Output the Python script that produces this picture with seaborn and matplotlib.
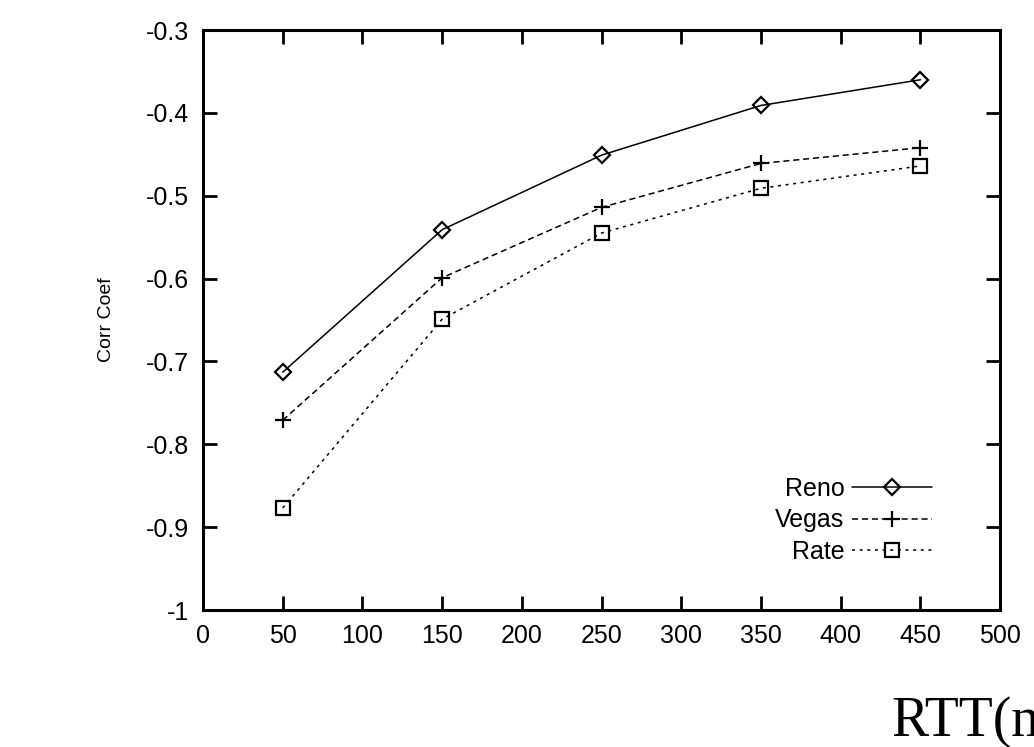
import numpy as np
import pandas as pd
import seaborn as sns
import matplotlib.pyplot as plt

# Values
rtt = [50, 150, 250, 350, 450]
reno = [-0.713, -0.541, -0.451, -0.391, -0.360]
vegas = [-0.771, -0.599, -0.514, -0.461, -0.442]
rate = [-0.877, -0.649, -0.545, -0.491, -0.464]

x_ticks = [0, 50, 100, 150, 200, 250, 300, 350, 400, 450, 500]
y_ticks = [-1, -0.9, -0.8, -0.7, -0.6, -0.5, -0.4, -0.3]
y_tick_labels = ['-1', '-0.9', '-0.8', '-0.7', '-0.6', '-0.5', '-0.4', '-0.3']

sns.set_theme(style='white')
plt.rcParams['font.family'] = ['Liberation Sans', 'DejaVu Sans']
plt.rcParams['text.color'] = 'black'
plt.rcParams['axes.labelcolor'] = 'black'
plt.rcParams['xtick.color'] = 'black'
plt.rcParams['ytick.color'] = 'black'

fig = plt.figure(figsize=(10.34, 7.47), dpi=100)
ax = fig.add_axes([0.1963, 0.1834, 0.7710, 0.7764])

# one call per series: seaborn won't mix filled and line-art markers
series = [
    ('Reno', reno, dict(marker='D', markersize=8, fillstyle='none', linestyle='-')),
    ('Vegas', vegas, dict(marker='+', markersize=11, linestyle=(0, (4, 2.5)))),
    ('Rate', rate, dict(marker='s', markersize=10, fillstyle='none', linestyle=(0, (2, 3)))),
]
for name, vals, kw in series:
    sns.lineplot(x=rtt, y=vals, color='black', linewidth=1.1, markeredgewidth=1.6,
                 markeredgecolor='black', label=name, ax=ax, **kw)

ax.set_xlim(0, 500)
ax.set_ylim(-1, -0.3)
ax.set_xticks(x_ticks)
ax.set_yticks(y_ticks)
ax.set_yticklabels(y_tick_labels)
ax.tick_params(direction='in', length=10, width=2, labelsize=18,
               top=True, right=True, bottom=True, left=True, pad=10)
for s in ax.spines.values():
    s.set_linewidth(2.2)
    s.set_color('black')
ax.set_xlabel('')
ax.set_ylabel('Corr Coef', fontsize=14, labelpad=22)

# gnuplot-style key: label on the left, sample on the right
ax.legend(loc='lower right', bbox_to_anchor=(0.93, 0.058),
          markerfirst=False, frameon=False, fontsize=18, handlelength=3.2,
          handletextpad=0.3, labelspacing=0.3, borderpad=0)

# x label runs off the right edge in the original figure
fig.text(0.862, 0.015, 'RTT(ms)', fontsize=40, family=['Liberation Serif', 'DejaVu Serif'])

fig.savefig('out.png', dpi=100, facecolor='white')
